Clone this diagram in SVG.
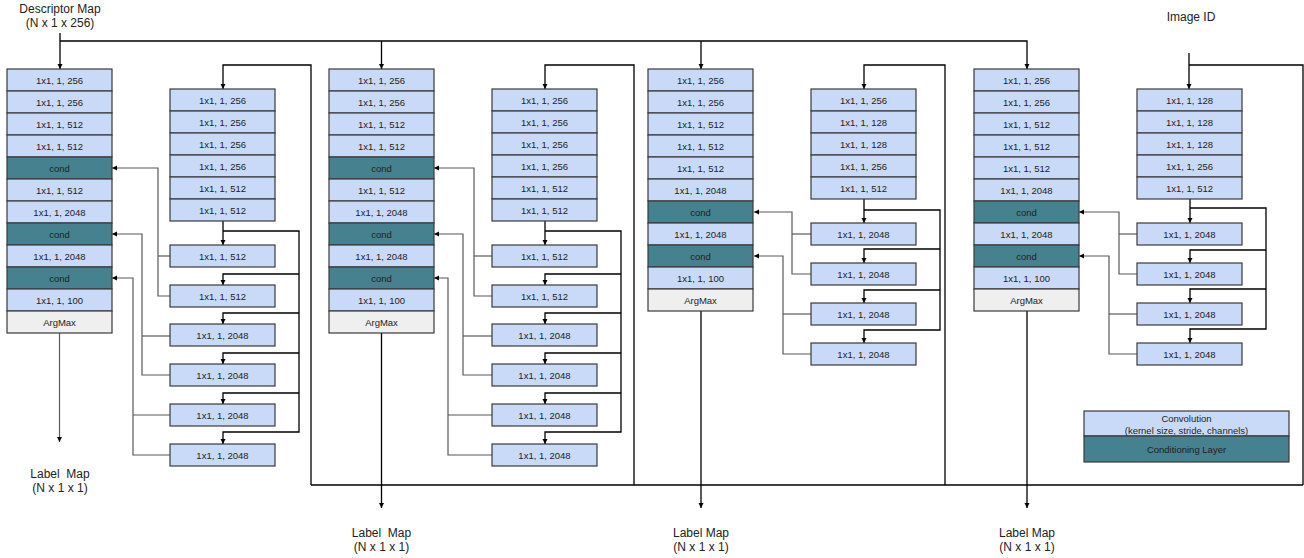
<svg xmlns="http://www.w3.org/2000/svg" width="1304" height="558" viewBox="0 0 1304 558">
<style>
.cv{fill:#c9daf8;stroke:#3a3a3a;stroke-width:1.2}
.cd{fill:#45818e;stroke:#3a3a3a;stroke-width:1.2}
.am{fill:#efefef;stroke:#3a3a3a;stroke-width:1.2}
text{font-family:"Liberation Sans",Arial,sans-serif;fill:#222;text-anchor:middle}
.t{font-size:9.5px}
.l{font-size:12px}
.k{stroke:#000;stroke-width:1.3;fill:none}
.g{stroke:#595959;stroke-width:1.2;fill:none}
</style>
<defs>
<marker id="ah" markerWidth="6" markerHeight="6" refX="5" refY="3" orient="auto" markerUnits="userSpaceOnUse"><path d="M0,0.5 L5,3 L0,5.5 z" fill="#000"/></marker>
</defs>
<g id="labels">
<text class="l" x="60" y="13">Descriptor Map</text>
<text class="l" x="60" y="27">(N x 1 x 256)</text>
<text class="l" x="1191" y="21">Image ID</text>
<text class="l" x="60" y="478" xml:space="preserve">Label  Map</text>
<text class="l" x="60" y="492">(N x 1 x 1)</text>
<text class="l" x="381.5" y="537" xml:space="preserve">Label  Map</text>
<text class="l" x="381.5" y="551">(N x 1 x 1)</text>
<text class="l" x="701" y="537">Label Map</text>
<text class="l" x="701" y="551">(N x 1 x 1)</text>
<text class="l" x="1027" y="537">Label Map</text>
<text class="l" x="1027" y="551">(N x 1 x 1)</text>
</g>
<g id="connectors">
<path class="k" d="M60,33 V69" marker-end="url(#ah)"/>
<path class="k" d="M60,41 H1027 V69" marker-end="url(#ah)"/>
<path class="k" d="M381.5,41 V69" marker-end="url(#ah)"/>
<path class="k" d="M701,41 V69" marker-end="url(#ah)"/>
<path class="k" d="M311,485 H1303"/>
<path class="k" d="M311,485 V65 H223 V89" marker-end="url(#ah)"/>
<path class="k" d="M634,485 V65 H545 V89" marker-end="url(#ah)"/>
<path class="k" d="M945,485 V65 H864 V89" marker-end="url(#ah)"/>
<path class="k" d="M1189,53 V89" marker-end="url(#ah)"/>
<path class="k" d="M1189,65 H1303 V485"/>
<path class="k" d="M223,221 V245" marker-end="url(#ah)"/>
<path class="k" d="M223,231 H299 V432 H223 V444" marker-end="url(#ah)"/>
<path class="k" d="M299,274 H223 V285" marker-end="url(#ah)"/>
<path class="k" d="M299,313 H223 V324" marker-end="url(#ah)"/>
<path class="k" d="M299,353 H223 V364" marker-end="url(#ah)"/>
<path class="k" d="M299,393 H223 V404" marker-end="url(#ah)"/>
<path class="g" d="M170,296 H158 V168 H112" marker-end="url(#ah)"/>
<path class="g" d="M158,256 H170"/>
<path class="g" d="M170,375 H142 V234 H112" marker-end="url(#ah)"/>
<path class="g" d="M142,336 H170"/>
<path class="g" d="M170,455 H133 V278 H112" marker-end="url(#ah)"/>
<path class="g" d="M133,415 H170"/>
<path class="g" d="M59.5,333 V442" marker-end="url(#ah)"/>
<path class="k" d="M545,221 V245" marker-end="url(#ah)"/>
<path class="k" d="M545,231 H621 V432 H545 V444" marker-end="url(#ah)"/>
<path class="k" d="M621,274 H545 V285" marker-end="url(#ah)"/>
<path class="k" d="M621,313 H545 V324" marker-end="url(#ah)"/>
<path class="k" d="M621,353 H545 V364" marker-end="url(#ah)"/>
<path class="k" d="M621,393 H545 V404" marker-end="url(#ah)"/>
<path class="g" d="M492,296 H474 V168 H434" marker-end="url(#ah)"/>
<path class="g" d="M474,256 H492"/>
<path class="g" d="M492,375 H463 V234 H434" marker-end="url(#ah)"/>
<path class="g" d="M463,336 H492"/>
<path class="g" d="M492,455 H448 V278 H434" marker-end="url(#ah)"/>
<path class="g" d="M448,415 H492"/>
<path class="k" d="M381.5,333 V508" marker-end="url(#ah)"/>
<path class="k" d="M864,199 V223" marker-end="url(#ah)"/>
<path class="k" d="M864,210 H940 V330 H864 V343" marker-end="url(#ah)"/>
<path class="k" d="M940,249 H864 V263" marker-end="url(#ah)"/>
<path class="k" d="M940,290 H864 V303" marker-end="url(#ah)"/>
<path class="g" d="M811,274 H792 V212 H754" marker-end="url(#ah)"/>
<path class="g" d="M792,234 H811"/>
<path class="g" d="M811,354 H783 V256 H754" marker-end="url(#ah)"/>
<path class="g" d="M783,314 H811"/>
<path class="k" d="M701,311 V508" marker-end="url(#ah)"/>
<path class="k" d="M1190,199 V223" marker-end="url(#ah)"/>
<path class="k" d="M1190,208 H1266 V329 H1190 V343" marker-end="url(#ah)"/>
<path class="k" d="M1266,250 H1190 V263" marker-end="url(#ah)"/>
<path class="k" d="M1266,289 H1190 V303" marker-end="url(#ah)"/>
<path class="g" d="M1137,274 H1119 V212 H1079" marker-end="url(#ah)"/>
<path class="g" d="M1119,234 H1137"/>
<path class="g" d="M1137,354 H1109 V256 H1079" marker-end="url(#ah)"/>
<path class="g" d="M1109,314 H1137"/>
<path class="k" d="M1027,311 V508" marker-end="url(#ah)"/>
</g>
<g id="m1r1"><rect class="cv" x="7" y="69" width="105" height="22"/><text class="t" x="59.5" y="83.5">1x1, 1, 256</text></g>
<g id="m1r2"><rect class="cv" x="7" y="91" width="105" height="22"/><text class="t" x="59.5" y="105.5">1x1, 1, 256</text></g>
<g id="m1r3"><rect class="cv" x="7" y="113" width="105" height="22"/><text class="t" x="59.5" y="127.5">1x1, 1, 512</text></g>
<g id="m1r4"><rect class="cv" x="7" y="135" width="105" height="22"/><text class="t" x="59.5" y="149.5">1x1, 1, 512</text></g>
<g id="m1r5"><rect class="cd" x="7" y="157" width="105" height="22"/><text class="t" x="59.5" y="171.5">cond</text></g>
<g id="m1r6"><rect class="cv" x="7" y="179" width="105" height="22"/><text class="t" x="59.5" y="193.5">1x1, 1, 512</text></g>
<g id="m1r7"><rect class="cv" x="7" y="201" width="105" height="22"/><text class="t" x="59.5" y="215.5">1x1, 1, 2048</text></g>
<g id="m1r8"><rect class="cd" x="7" y="223" width="105" height="22"/><text class="t" x="59.5" y="237.5">cond</text></g>
<g id="m1r9"><rect class="cv" x="7" y="245" width="105" height="22"/><text class="t" x="59.5" y="259.5">1x1, 1, 2048</text></g>
<g id="m1r10"><rect class="cd" x="7" y="267" width="105" height="22"/><text class="t" x="59.5" y="281.5">cond</text></g>
<g id="m1r11"><rect class="cv" x="7" y="289" width="105" height="22"/><text class="t" x="59.5" y="303.5">1x1, 1, 100</text></g>
<g id="m1r12"><rect class="am" x="7" y="311" width="105" height="22"/><text class="t" x="59.5" y="325.5">ArgMax</text></g>
<g id="s1r1"><rect class="cv" x="170" y="89" width="105" height="22"/><text class="t" x="222.5" y="103.5">1x1, 1, 256</text></g>
<g id="s1r2"><rect class="cv" x="170" y="111" width="105" height="22"/><text class="t" x="222.5" y="125.5">1x1, 1, 256</text></g>
<g id="s1r3"><rect class="cv" x="170" y="133" width="105" height="22"/><text class="t" x="222.5" y="147.5">1x1, 1, 256</text></g>
<g id="s1r4"><rect class="cv" x="170" y="155" width="105" height="22"/><text class="t" x="222.5" y="169.5">1x1, 1, 256</text></g>
<g id="s1r5"><rect class="cv" x="170" y="177" width="105" height="22"/><text class="t" x="222.5" y="191.5">1x1, 1, 512</text></g>
<g id="s1r6"><rect class="cv" x="170" y="199" width="105" height="22"/><text class="t" x="222.5" y="213.5">1x1, 1, 512</text></g>
<g id="b1a"><rect class="cv" x="170" y="245" width="105" height="22"/><text class="t" x="222.5" y="259.5">1x1, 1, 512</text></g>
<g id="b1b"><rect class="cv" x="170" y="285" width="105" height="22"/><text class="t" x="222.5" y="299.5">1x1, 1, 512</text></g>
<g id="b1c"><rect class="cv" x="170" y="324" width="105" height="22"/><text class="t" x="222.5" y="338.5">1x1, 1, 2048</text></g>
<g id="b1d"><rect class="cv" x="170" y="364" width="105" height="22"/><text class="t" x="222.5" y="378.5">1x1, 1, 2048</text></g>
<g id="b1e"><rect class="cv" x="170" y="404" width="105" height="22"/><text class="t" x="222.5" y="418.5">1x1, 1, 2048</text></g>
<g id="b1f"><rect class="cv" x="170" y="444" width="105" height="22"/><text class="t" x="222.5" y="458.5">1x1, 1, 2048</text></g>
<g id="m2r1"><rect class="cv" x="329" y="69" width="105" height="22"/><text class="t" x="381.5" y="83.5">1x1, 1, 256</text></g>
<g id="m2r2"><rect class="cv" x="329" y="91" width="105" height="22"/><text class="t" x="381.5" y="105.5">1x1, 1, 256</text></g>
<g id="m2r3"><rect class="cv" x="329" y="113" width="105" height="22"/><text class="t" x="381.5" y="127.5">1x1, 1, 512</text></g>
<g id="m2r4"><rect class="cv" x="329" y="135" width="105" height="22"/><text class="t" x="381.5" y="149.5">1x1, 1, 512</text></g>
<g id="m2r5"><rect class="cd" x="329" y="157" width="105" height="22"/><text class="t" x="381.5" y="171.5">cond</text></g>
<g id="m2r6"><rect class="cv" x="329" y="179" width="105" height="22"/><text class="t" x="381.5" y="193.5">1x1, 1, 512</text></g>
<g id="m2r7"><rect class="cv" x="329" y="201" width="105" height="22"/><text class="t" x="381.5" y="215.5">1x1, 1, 2048</text></g>
<g id="m2r8"><rect class="cd" x="329" y="223" width="105" height="22"/><text class="t" x="381.5" y="237.5">cond</text></g>
<g id="m2r9"><rect class="cv" x="329" y="245" width="105" height="22"/><text class="t" x="381.5" y="259.5">1x1, 1, 2048</text></g>
<g id="m2r10"><rect class="cd" x="329" y="267" width="105" height="22"/><text class="t" x="381.5" y="281.5">cond</text></g>
<g id="m2r11"><rect class="cv" x="329" y="289" width="105" height="22"/><text class="t" x="381.5" y="303.5">1x1, 1, 100</text></g>
<g id="m2r12"><rect class="am" x="329" y="311" width="105" height="22"/><text class="t" x="381.5" y="325.5">ArgMax</text></g>
<g id="s2r1"><rect class="cv" x="492" y="89" width="105" height="22"/><text class="t" x="544.5" y="103.5">1x1, 1, 256</text></g>
<g id="s2r2"><rect class="cv" x="492" y="111" width="105" height="22"/><text class="t" x="544.5" y="125.5">1x1, 1, 256</text></g>
<g id="s2r3"><rect class="cv" x="492" y="133" width="105" height="22"/><text class="t" x="544.5" y="147.5">1x1, 1, 256</text></g>
<g id="s2r4"><rect class="cv" x="492" y="155" width="105" height="22"/><text class="t" x="544.5" y="169.5">1x1, 1, 256</text></g>
<g id="s2r5"><rect class="cv" x="492" y="177" width="105" height="22"/><text class="t" x="544.5" y="191.5">1x1, 1, 512</text></g>
<g id="s2r6"><rect class="cv" x="492" y="199" width="105" height="22"/><text class="t" x="544.5" y="213.5">1x1, 1, 512</text></g>
<g id="b2a"><rect class="cv" x="492" y="245" width="105" height="22"/><text class="t" x="544.5" y="259.5">1x1, 1, 512</text></g>
<g id="b2b"><rect class="cv" x="492" y="285" width="105" height="22"/><text class="t" x="544.5" y="299.5">1x1, 1, 512</text></g>
<g id="b2c"><rect class="cv" x="492" y="324" width="105" height="22"/><text class="t" x="544.5" y="338.5">1x1, 1, 2048</text></g>
<g id="b2d"><rect class="cv" x="492" y="364" width="105" height="22"/><text class="t" x="544.5" y="378.5">1x1, 1, 2048</text></g>
<g id="b2e"><rect class="cv" x="492" y="404" width="105" height="22"/><text class="t" x="544.5" y="418.5">1x1, 1, 2048</text></g>
<g id="b2f"><rect class="cv" x="492" y="444" width="105" height="22"/><text class="t" x="544.5" y="458.5">1x1, 1, 2048</text></g>
<g id="m3r1"><rect class="cv" x="648" y="69" width="105" height="22"/><text class="t" x="700.5" y="83.5">1x1, 1, 256</text></g>
<g id="m3r2"><rect class="cv" x="648" y="91" width="105" height="22"/><text class="t" x="700.5" y="105.5">1x1, 1, 256</text></g>
<g id="m3r3"><rect class="cv" x="648" y="113" width="105" height="22"/><text class="t" x="700.5" y="127.5">1x1, 1, 512</text></g>
<g id="m3r4"><rect class="cv" x="648" y="135" width="105" height="22"/><text class="t" x="700.5" y="149.5">1x1, 1, 512</text></g>
<g id="m3r5"><rect class="cv" x="648" y="157" width="105" height="22"/><text class="t" x="700.5" y="171.5">1x1, 1, 512</text></g>
<g id="m3r6"><rect class="cv" x="648" y="179" width="105" height="22"/><text class="t" x="700.5" y="193.5">1x1, 1, 2048</text></g>
<g id="m3r7"><rect class="cd" x="648" y="201" width="105" height="22"/><text class="t" x="700.5" y="215.5">cond</text></g>
<g id="m3r8"><rect class="cv" x="648" y="223" width="105" height="22"/><text class="t" x="700.5" y="237.5">1x1, 1, 2048</text></g>
<g id="m3r9"><rect class="cd" x="648" y="245" width="105" height="22"/><text class="t" x="700.5" y="259.5">cond</text></g>
<g id="m3r10"><rect class="cv" x="648" y="267" width="105" height="22"/><text class="t" x="700.5" y="281.5">1x1, 1, 100</text></g>
<g id="m3r11"><rect class="am" x="648" y="289" width="105" height="22"/><text class="t" x="700.5" y="303.5">ArgMax</text></g>
<g id="s3r1"><rect class="cv" x="811" y="89" width="105" height="22"/><text class="t" x="863.5" y="103.5">1x1, 1, 256</text></g>
<g id="s3r2"><rect class="cv" x="811" y="111" width="105" height="22"/><text class="t" x="863.5" y="125.5">1x1, 1, 128</text></g>
<g id="s3r3"><rect class="cv" x="811" y="133" width="105" height="22"/><text class="t" x="863.5" y="147.5">1x1, 1, 128</text></g>
<g id="s3r4"><rect class="cv" x="811" y="155" width="105" height="22"/><text class="t" x="863.5" y="169.5">1x1, 1, 256</text></g>
<g id="s3r5"><rect class="cv" x="811" y="177" width="105" height="22"/><text class="t" x="863.5" y="191.5">1x1, 1, 512</text></g>
<g id="b3a"><rect class="cv" x="811" y="223" width="105" height="22"/><text class="t" x="863.5" y="237.5">1x1, 1, 2048</text></g>
<g id="b3b"><rect class="cv" x="811" y="263" width="105" height="22"/><text class="t" x="863.5" y="277.5">1x1, 1, 2048</text></g>
<g id="b3c"><rect class="cv" x="811" y="303" width="105" height="22"/><text class="t" x="863.5" y="317.5">1x1, 1, 2048</text></g>
<g id="b3d"><rect class="cv" x="811" y="343" width="105" height="22"/><text class="t" x="863.5" y="357.5">1x1, 1, 2048</text></g>
<g id="m4r1"><rect class="cv" x="974" y="69" width="105" height="22"/><text class="t" x="1026.5" y="83.5">1x1, 1, 256</text></g>
<g id="m4r2"><rect class="cv" x="974" y="91" width="105" height="22"/><text class="t" x="1026.5" y="105.5">1x1, 1, 256</text></g>
<g id="m4r3"><rect class="cv" x="974" y="113" width="105" height="22"/><text class="t" x="1026.5" y="127.5">1x1, 1, 512</text></g>
<g id="m4r4"><rect class="cv" x="974" y="135" width="105" height="22"/><text class="t" x="1026.5" y="149.5">1x1, 1, 512</text></g>
<g id="m4r5"><rect class="cv" x="974" y="157" width="105" height="22"/><text class="t" x="1026.5" y="171.5">1x1, 1, 512</text></g>
<g id="m4r6"><rect class="cv" x="974" y="179" width="105" height="22"/><text class="t" x="1026.5" y="193.5">1x1, 1, 2048</text></g>
<g id="m4r7"><rect class="cd" x="974" y="201" width="105" height="22"/><text class="t" x="1026.5" y="215.5">cond</text></g>
<g id="m4r8"><rect class="cv" x="974" y="223" width="105" height="22"/><text class="t" x="1026.5" y="237.5">1x1, 1, 2048</text></g>
<g id="m4r9"><rect class="cd" x="974" y="245" width="105" height="22"/><text class="t" x="1026.5" y="259.5">cond</text></g>
<g id="m4r10"><rect class="cv" x="974" y="267" width="105" height="22"/><text class="t" x="1026.5" y="281.5">1x1, 1, 100</text></g>
<g id="m4r11"><rect class="am" x="974" y="289" width="105" height="22"/><text class="t" x="1026.5" y="303.5">ArgMax</text></g>
<g id="s4r1"><rect class="cv" x="1137" y="89" width="105" height="22"/><text class="t" x="1189.5" y="103.5">1x1, 1, 128</text></g>
<g id="s4r2"><rect class="cv" x="1137" y="111" width="105" height="22"/><text class="t" x="1189.5" y="125.5">1x1, 1, 128</text></g>
<g id="s4r3"><rect class="cv" x="1137" y="133" width="105" height="22"/><text class="t" x="1189.5" y="147.5">1x1, 1, 128</text></g>
<g id="s4r4"><rect class="cv" x="1137" y="155" width="105" height="22"/><text class="t" x="1189.5" y="169.5">1x1, 1, 256</text></g>
<g id="s4r5"><rect class="cv" x="1137" y="177" width="105" height="22"/><text class="t" x="1189.5" y="191.5">1x1, 1, 512</text></g>
<g id="b4a"><rect class="cv" x="1137" y="223" width="105" height="22"/><text class="t" x="1189.5" y="237.5">1x1, 1, 2048</text></g>
<g id="b4b"><rect class="cv" x="1137" y="263" width="105" height="22"/><text class="t" x="1189.5" y="277.5">1x1, 1, 2048</text></g>
<g id="b4c"><rect class="cv" x="1137" y="303" width="105" height="22"/><text class="t" x="1189.5" y="317.5">1x1, 1, 2048</text></g>
<g id="b4d"><rect class="cv" x="1137" y="343" width="105" height="22"/><text class="t" x="1189.5" y="357.5">1x1, 1, 2048</text></g>
<g id="legend-conv"><rect class="cv" x="1084" y="411" width="205" height="25"/><text class="t" x="1186.5" y="422">Convolution</text><text class="t" x="1186.5" y="434">(kernel size, stride, channels)</text></g>
<g id="legend-cond"><rect class="cd" x="1084" y="436" width="205" height="26"/><text class="t" x="1186.5" y="453">Conditioning Layer</text></g>
</svg>
